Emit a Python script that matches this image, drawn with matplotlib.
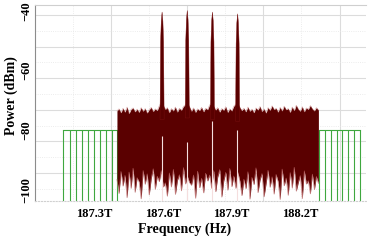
import matplotlib
matplotlib.use("Agg")
import matplotlib.pyplot as plt
import numpy as np

plt.rcParams['font.family'] = ['Liberation Serif', 'DejaVu Serif']
plt.rcParams['font.weight'] = 'bold'

# frequencies in THz, power in dBm
x_ticks = [187.3, 187.6, 187.9, 188.2]
x_tick_labels = ['187.3T', '187.6T', '187.9T', '188.2T']
y_ticks = [-40, -60, -80, -100]

# green channel grid outside the band
green_left_f = [187.166, 187.195, 187.221, 187.247, 187.274, 187.300,
                187.326, 187.352, 187.379, 187.400]
green_right_f = [188.282, 188.308, 188.335, 188.361, 188.383, 188.409,
                 188.435, 188.461]
green_level = -80.0

# noise band (upper and lower envelope)
noise_start, noise_stop, noise_n = 187.40, 188.28, 101
noise_top = [
    -73.5, -72.8, -74.1, -72.6, -73.9, -72.2, -74.4, -73.0, -72.5, -73.8,
    -72.9, -74.0, -72.4, -73.6, -72.7, -74.2, -73.1, -72.3, -73.7, -72.8,
    -73.4, -71.8, -70.5, -71.6, -73.0, -72.4, -74.1, -72.7, -73.5, -72.2,
    -73.9, -72.6, -73.3, -72.0, -71.4, -70.8, -72.1, -73.6, -72.5, -74.0,
    -72.8, -73.4, -72.3, -73.8, -72.6, -73.1, -71.5, -70.9, -71.9, -73.2,
    -72.4, -73.9, -72.7, -73.3, -72.1, -74.0, -72.8, -73.5, -71.9, -71.2,
    -71.0, -72.3, -73.4, -72.6, -73.8, -72.2, -73.6, -72.9, -74.1, -72.5,
    -73.2, -72.0, -73.7, -72.8, -74.2, -72.4, -73.3, -71.8, -73.0, -72.6,
    -73.9, -72.3, -73.5, -71.9, -73.1, -72.7, -74.0, -72.2, -73.4, -71.6,
    -72.9, -73.6, -72.1, -73.8, -72.5, -73.0, -71.7, -72.8, -73.5, -72.4,
    -73.2]
noise_bottom = [
    -96.5, -101.2, -93.8, -98.7, -95.1, -102.6, -94.0, -99.5, -92.7, -100.8,
    -95.9, -97.3, -103.0, -93.5, -98.1, -94.6, -101.7, -96.2, -92.9, -99.8,
    -95.4, -97.2, -93.5, -99.0, -97.6, -102.1, -94.3, -99.0, -93.1, -101.5,
    -96.8, -94.9, -100.3, -92.5, -98.0, -95.5, -97.5, -98.4, -95.0, -102.8,
    -93.7, -99.3, -96.1, -101.0, -94.4, -97.0, -95.0, -99.5, -93.5, -100.6,
    -95.7, -93.2, -102.4, -97.0, -94.1, -100.1, -92.8, -98.9, -95.3, -99.5,
    -94.0, -97.0, -101.9, -96.4, -99.6, -93.9, -103.1, -95.8, -98.2, -92.6,
    -100.9, -96.7, -94.5, -102.3, -97.9, -93.4, -99.1, -95.6, -101.4, -94.8,
    -97.2, -103.2, -93.0, -98.6, -96.0, -101.8, -94.2, -99.4, -92.4, -100.4,
    -97.5, -95.2, -102.9, -93.6, -98.0, -96.9, -101.3, -94.7, -99.9, -95.5,
    -97.8]

# four carriers
peak_f = [187.595, 187.705, 187.815, 187.925]
peak_p = [-40.2, -39.7, -40.2, -40.8]
notch_top = [-82.0, -84.0, -77.0, -80.0]
peak_dx = [-0.009, -0.0065, -0.0035, 0.0, 0.0035, 0.0065, 0.009]
peak_drop = [36, 10, 3, 0, 3, 10, 36]

# background grid of the instrument screen (axes fractions)
grid_x = [0.23, 0.46, 0.69, 0.92]
grid_y = [0.143, 0.304, 0.465, 0.627, 0.788, 0.949]
minor_x = [0.115, 0.345, 0.575, 0.805]
minor_y = [0.062, 0.224, 0.385, 0.546, 0.708, 0.869]

dark = '#5a0000'
edge = '#c06868'
green = '#3fa73f'

fig = plt.figure(figsize=(3.7, 2.4), dpi=100)
rect = [0.0946, 0.1625, 0.8946, 0.8167]

gax = fig.add_axes(rect, zorder=0)
gax.set_xlim(0, 1)
gax.set_ylim(0, 1)
gax.set_xticks(grid_x)
gax.set_yticks(grid_y)
gax.set_xticks(minor_x, minor=True)
gax.set_yticks(minor_y, minor=True)
gax.grid(which='major', color='#dcdcdc', lw=0.8)
gax.grid(which='minor', color='#e6e6e6', lw=0.6, ls=':')
gax.tick_params(which='both', length=0, labelbottom=False, labelleft=False)
for s in gax.spines.values():
    s.set_visible(False)

ax = fig.add_axes(rect, zorder=1)
ax.patch.set_visible(False)
ax.set_xlim(187.042, 188.488)
ax.set_ylim(-103.7, -38.0)
floor = ax.get_ylim()[0]

# green grid
ax.vlines(green_left_f, floor, green_level, color=green, lw=0.8)
ax.vlines(green_right_f, floor, green_level, color=green, lw=0.8)
ax.plot([green_left_f[0], green_left_f[-1]], [green_level, green_level], color=green, lw=0.8)
ax.plot([green_right_f[0], green_right_f[-1]], [green_level, green_level], color=green, lw=0.8)

# noise band
noise_f = np.linspace(noise_start, noise_stop, noise_n)
ax.fill_between(noise_f, noise_bottom, noise_top, color=dark, lw=0, zorder=3)
ax.plot(noise_f, noise_bottom, color=edge, lw=0.5, alpha=0.8, zorder=3.1)
ax.plot(noise_f, noise_top, color=edge, lw=0.4, alpha=0.6, zorder=3.1)

# notches under the carriers, then the carriers
ax.vlines(peak_f, floor, notch_top, color='#f5dede', lw=0.8, zorder=4)
for f, p in zip(peak_f, peak_p):
    xs = f + np.array(peak_dx)
    ys = p - np.array(peak_drop)
    ax.fill_between(xs, p - max(peak_drop), ys, color=dark, lw=0.3, edgecolor='#7a1010', zorder=5)

ax.set_xticks(x_ticks)
ax.set_xticklabels(x_tick_labels)
ax.set_yticks(y_ticks)
ax.tick_params(axis='x', length=0, pad=5, labelsize=9)
ax.tick_params(axis='y', length=0, pad=2, labelsize=9)
for lab in ax.get_yticklabels():
    lab.set_rotation(90)
    lab.set_va('center')

ax.set_xlabel('Frequency (Hz)', fontsize=10, fontweight='bold')
ax.set_ylabel('Power (dBm)', fontsize=10, fontweight='bold')
ax.xaxis.set_label_coords(0.453, -0.11)
ax.yaxis.set_label_coords(-0.052, 0.54)

ax.spines['left'].set_color('#8c8c8c')
ax.spines['left'].set_linewidth(0.8)
ax.spines['top'].set_color('#cfcfcf')
ax.spines['top'].set_linewidth(0.8)
ax.spines['right'].set_visible(False)
ax.spines['bottom'].set_color('#d0d0d0')
ax.spines['bottom'].set_linestyle(':')
ax.spines['bottom'].set_linewidth(0.8)

fig.savefig('out.png', dpi=100)
